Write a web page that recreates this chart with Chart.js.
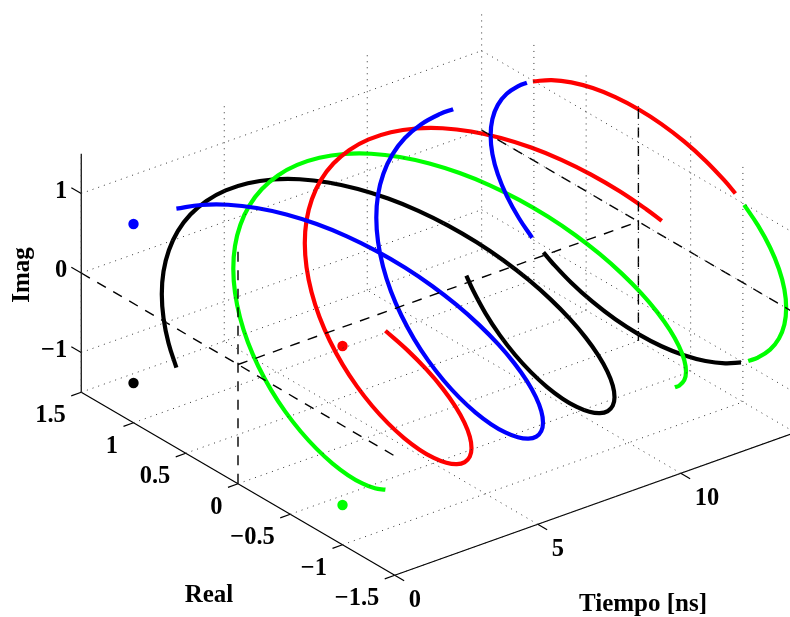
<!DOCTYPE html>
<html>
<head>
<meta charset="utf-8">
<title>Tiempo / Real / Imag</title>
<script src="https://cdn.jsdelivr.net/npm/chart.js@4"></script>
<style>
    html, body { margin: 0; padding: 0; background: #fff; overflow: hidden; }
    canvas { display: block; }
</style>
</head>
<body>
<canvas id="helix-chart" width="790" height="617"></canvas>
<script>
// Axis ticks
const timeTicks = [0, 5, 10];
const realTicks = [1.5, 1, 0.5, 0, -0.5, -1, -1.5];
const imagTicks = [1, 0, -1];
const timeLabels = ['0', '5', '10'];
const realLabels = ['1.5', '1', '0.5', '0', '\u22120.5', '\u22121', '\u22121.5'];
const imagLabels = ['1', '0', '\u22121'];
const timeMax = 14;
const imagMin = -1.5;
const imagMax = 1.5;

// Constellation points at t = 0 (blue, red, green, black)
const symbolReal = [1, -1, -1, 1];
const symbolImag = [1, 1, -1, -1];
const symbolColors = ['#0000ff', '#ff0000', '#00ff00', '#000000'];

// First turn, time in ns
const turnTime = [1.5, 1.75, 2, 2.25, 2.5, 2.75, 3, 3.25, 3.5, 3.75, 4, 4.25, 4.5, 4.75, 5, 5.25, 5.5, 5.75, 6, 6.25, 6.5, 6.75, 7, 7.25, 7.5, 7.75, 8, 8.25, 8.5, 8.75, 9, 9.25, 9.5, 9.75, 10, 10.25, 10.5, 10.75, 11, 11.25, 11.4];

const blackReal = [1, 1.144, 1.26, 1.345, 1.397, 1.414, 1.397, 1.345, 1.26, 1.144, 1, 0.831, 0.642, 0.437, 0.221, 0, -0.221, -0.437, -0.642, -0.831, -1, -1.144, -1.26, -1.345, -1.397, -1.414, -1.397, -1.345, -1.26, -1.144, -1, -0.831, -0.642, -0.437, -0.221, 0, 0.221, 0.437, 0.642, 0.831, 0.935];
const blackImag = [-1, -0.831, -0.642, -0.437, -0.221, 0, 0.221, 0.437, 0.642, 0.831, 1, 1.144, 1.26, 1.345, 1.397, 1.414, 1.397, 1.345, 1.26, 1.144, 1, 0.831, 0.642, 0.437, 0.221, 0, -0.221, -0.437, -0.642, -0.831, -1, -1.144, -1.26, -1.345, -1.397, -1.414, -1.397, -1.345, -1.26, -1.144, -1.061];

const blueReal = [1, 0.831, 0.642, 0.437, 0.221, 0, -0.221, -0.437, -0.642, -0.831, -1, -1.144, -1.26, -1.345, -1.397, -1.414, -1.397, -1.345, -1.26, -1.144, -1, -0.831, -0.642, -0.437, -0.221, 0, 0.221, 0.437, 0.642, 0.831, 1, 1.144, 1.26, 1.345, 1.397, 1.414, 1.397, 1.345, 1.26, 1.144, 1.061];
const blueImag = [1, 1.144, 1.26, 1.345, 1.397, 1.414, 1.397, 1.345, 1.26, 1.144, 1, 0.831, 0.642, 0.437, 0.221, 0, -0.221, -0.437, -0.642, -0.831, -1, -1.144, -1.26, -1.345, -1.397, -1.414, -1.397, -1.345, -1.26, -1.144, -1, -0.831, -0.642, -0.437, -0.221, 0, 0.221, 0.437, 0.642, 0.831, 0.935];

const redReal = [-1, -1.144, -1.26, -1.345, -1.397, -1.414, -1.397, -1.345, -1.26, -1.144, -1, -0.831, -0.642, -0.437, -0.221, 0, 0.221, 0.437, 0.642, 0.831, 1, 1.144, 1.26, 1.345, 1.397, 1.414, 1.397, 1.345, 1.26, 1.144, 1, 0.831, 0.642, 0.437, 0.221, 0, -0.221, -0.437, -0.642, -0.831, -0.935];
const redImag = [1, 0.831, 0.642, 0.437, 0.221, 0, -0.221, -0.437, -0.642, -0.831, -1, -1.144, -1.26, -1.345, -1.397, -1.414, -1.397, -1.345, -1.26, -1.144, -1, -0.831, -0.642, -0.437, -0.221, 0, 0.221, 0.437, 0.642, 0.831, 1, 1.144, 1.26, 1.345, 1.397, 1.414, 1.397, 1.345, 1.26, 1.144, 1.061];

const greenReal = [-1, -0.831, -0.642, -0.437, -0.221, 0, 0.221, 0.437, 0.642, 0.831, 1, 1.144, 1.26, 1.345, 1.397, 1.414, 1.397, 1.345, 1.26, 1.144, 1, 0.831, 0.642, 0.437, 0.221, 0, -0.221, -0.437, -0.642, -0.831, -1, -1.144, -1.26, -1.345, -1.397, -1.414, -1.397, -1.345, -1.26, -1.144, -1.061];
const greenImag = [-1, -1.144, -1.26, -1.345, -1.397, -1.414, -1.397, -1.345, -1.26, -1.144, -1, -0.831, -0.642, -0.437, -0.221, 0, 0.221, 0.437, 0.642, 0.831, 1, 1.144, 1.26, 1.345, 1.397, 1.414, 1.397, 1.345, 1.26, 1.144, 1, 0.831, 0.642, 0.437, 0.221, 0, -0.221, -0.437, -0.642, -0.831, -0.935];

// Arcs on the far wall (t = 14)
const arcTime = [14, 14, 14, 14, 14, 14, 14, 14, 14, 14, 14];
const blueArcReal = [1.017, 1.144, 1.26, 1.345, 1.397, 1.414, 1.397, 1.345, 1.26, 1.144, 1.067];
const blueArcImag = [-0.982, -0.831, -0.642, -0.437, -0.221, 0, 0.221, 0.437, 0.642, 0.831, 0.928];
const redArcReal = [1.01, 0.831, 0.642, 0.437, 0.221, 0, -0.221, -0.437, -0.642, -0.831, -0.928];
const redArcImag = [0.99, 1.144, 1.26, 1.345, 1.397, 1.414, 1.397, 1.345, 1.26, 1.144, 1.067];
const greenArcReal = [-1.012, -1.144, -1.26, -1.345, -1.397, -1.414, -1.397, -1.345, -1.26, -1.144, -1.051];
const greenArcImag = [0.988, 0.831, 0.642, 0.437, 0.221, 0, -0.221, -0.437, -0.642, -0.831, -0.946];
const blackArcReal = [-0.982, -0.831, -0.642, -0.437, -0.221, 0, 0.221, 0.437, 0.642, 0.831, 0.909];
const blackArcImag = [-1.017, -1.144, -1.26, -1.345, -1.397, -1.414, -1.397, -1.345, -1.26, -1.144, -1.083];

// 3D view: time, real, imag to the flat plane of the chart
function project(t, r, i) {
    return {
        x: 238 + 28.6 * t - 104.5 * r,
        y: 364.5 - 10.2 * t - 61 * r - 79.5 * i
    };
}

function segment(a, b, style) {
    return Object.assign({
        data: [project(a[0], a[1], a[2]), project(b[0], b[1], b[2])],
        showLine: true,
        pointRadius: 0,
        fill: false,
        tension: 0
    }, style);
}

function curve(times, reals, imags, color) {
    return {
        data: times.map((t, n) => project(t, reals[n], imags[n])),
        showLine: true,
        pointRadius: 0,
        fill: false,
        tension: 0.4,
        borderColor: color,
        borderWidth: 4.2,
        borderCapStyle: 'butt',
        borderJoinStyle: 'round'
    };
}

const datasets = [];
const rBack = 1.5;
const rFront = -1.5;

const gridStyle = { borderColor: '#333', borderWidth: 1, borderDash: [1, 5] };
const dashStyle = { borderColor: '#000', borderWidth: 1.4, borderDash: [10, 8.5] };
const axisStyle = { borderColor: '#000', borderWidth: 1.2 };

// Dotted grid
realTicks.forEach(r => {
    datasets.push(segment([0, r, imagMin], [timeMax, r, imagMin], gridStyle));
    datasets.push(segment([timeMax, r, imagMin], [timeMax, r, imagMax], gridStyle));
});
timeTicks.forEach(t => {
    if (t > 0) datasets.push(segment([t, rFront, imagMin], [t, rBack, imagMin], gridStyle));
    datasets.push(segment([t, rBack, imagMin], [t, rBack, imagMax], gridStyle));
});
imagTicks.forEach(i => {
    datasets.push(segment([0, rBack, i], [timeMax, rBack, i], gridStyle));
    datasets.push(segment([timeMax, rBack, i], [timeMax, rFront, i], gridStyle));
});
datasets.push(segment([timeMax, rBack, imagMin], [timeMax, rFront, imagMin], gridStyle));

// Dashed centre lines
datasets.push(segment([0, rBack, 0], [0, rFront, 0], dashStyle));
datasets.push(segment([0, 0, imagMin], [0, 0, imagMax], dashStyle));
datasets.push(segment([0, 0, 0], [timeMax, 0, 0], dashStyle));
datasets.push(segment([timeMax, rBack, 0], [timeMax, rFront, 0], dashStyle));
datasets.push(segment([timeMax, 0, imagMin], [timeMax, 0, imagMax], dashStyle));

// Solid axes and tick marks
datasets.push(segment([0, rBack, imagMin], [0, rBack, imagMax], axisStyle));
datasets.push(segment([0, rBack, imagMin], [0, rFront, imagMin], axisStyle));
datasets.push(segment([0, rFront, imagMin], [timeMax, rFront, imagMin], axisStyle));
realTicks.forEach(r => {
    datasets.push(segment([0, r, imagMin], [-0.35, r, imagMin], axisStyle));
});
timeTicks.forEach(t => {
    datasets.push(segment([t, rFront, imagMin], [t, rFront - 0.09, imagMin], axisStyle));
});
imagTicks.forEach(i => {
    datasets.push(segment([0, rBack, i], [0, rBack + 0.095, i], axisStyle));
});

// Helix and arcs, black ends up on top
datasets.push(curve(turnTime, blueReal, blueImag, '#0000ff'));
datasets.push(curve(arcTime, blueArcReal, blueArcImag, '#0000ff'));
datasets.push(curve(turnTime, redReal, redImag, '#ff0000'));
datasets.push(curve(arcTime, redArcReal, redArcImag, '#ff0000'));
datasets.push(curve(turnTime, greenReal, greenImag, '#00ff00'));
datasets.push(curve(arcTime, greenArcReal, greenArcImag, '#00ff00'));
datasets.push(curve(turnTime, blackReal, blackImag, '#000000'));
datasets.push(curve(arcTime, blackArcReal, blackArcImag, '#000000'));

// Constellation dots
datasets.push({
    data: symbolReal.map((r, n) => project(0, r, symbolImag[n])),
    showLine: false,
    pointRadius: 5.2,
    pointBorderWidth: 0,
    pointBackgroundColor: symbolColors
});

// Tick labels and axis titles are text on the canvas
const axisText = {
    id: 'axisText',
    afterDraw(chart) {
        const ctx = chart.ctx;
        const xs = chart.scales.x;
        const ys = chart.scales.y;
        const put = (text, p, dx, dy, align) => {
            ctx.textAlign = align;
            ctx.fillText(text, xs.getPixelForValue(p.x) + dx, ys.getPixelForValue(p.y) + dy);
        };
        ctx.save();
        ctx.fillStyle = '#000';
        ctx.textBaseline = 'alphabetic';
        ctx.font = 'bold 24.5px "Liberation Serif"';
        imagTicks.forEach((v, n) => put(imagLabels[n], project(0, rBack, v), -14, 4, 'right'));
        realTicks.forEach((v, n) => put(realLabels[n], project(0, v, imagMin), -15.5, 30, 'right'));
        timeTicks.forEach((v, n) => put(timeLabels[n], project(v, rFront, imagMin), 14, 32, 'left'));

        ctx.font = 'bold 25px "Liberation Serif"';
        ctx.textAlign = 'center';
        ctx.fillText('Real', 209, 602);
        ctx.fillText('Tiempo [ns]', 643, 611);
        ctx.translate(29, 275);
        ctx.rotate(-Math.PI / 2);
        ctx.fillText('Imag', 0, 0);
        ctx.restore();
    }
};

const ctx = document.getElementById('helix-chart').getContext('2d');
new Chart(ctx, {
    type: 'scatter',
    data: { datasets: datasets },
    options: {
        responsive: false,
        animation: false,
        layout: { padding: 0, autoPadding: false },
        plugins: {
            legend: { display: false },
            tooltip: { enabled: false }
        },
        scales: {
            x: { type: 'linear', min: 0, max: 790, display: false },
            y: { type: 'linear', min: 0, max: 617, reverse: true, display: false }
        }
    },
    plugins: [axisText]
});
</script>
</body>
</html>
